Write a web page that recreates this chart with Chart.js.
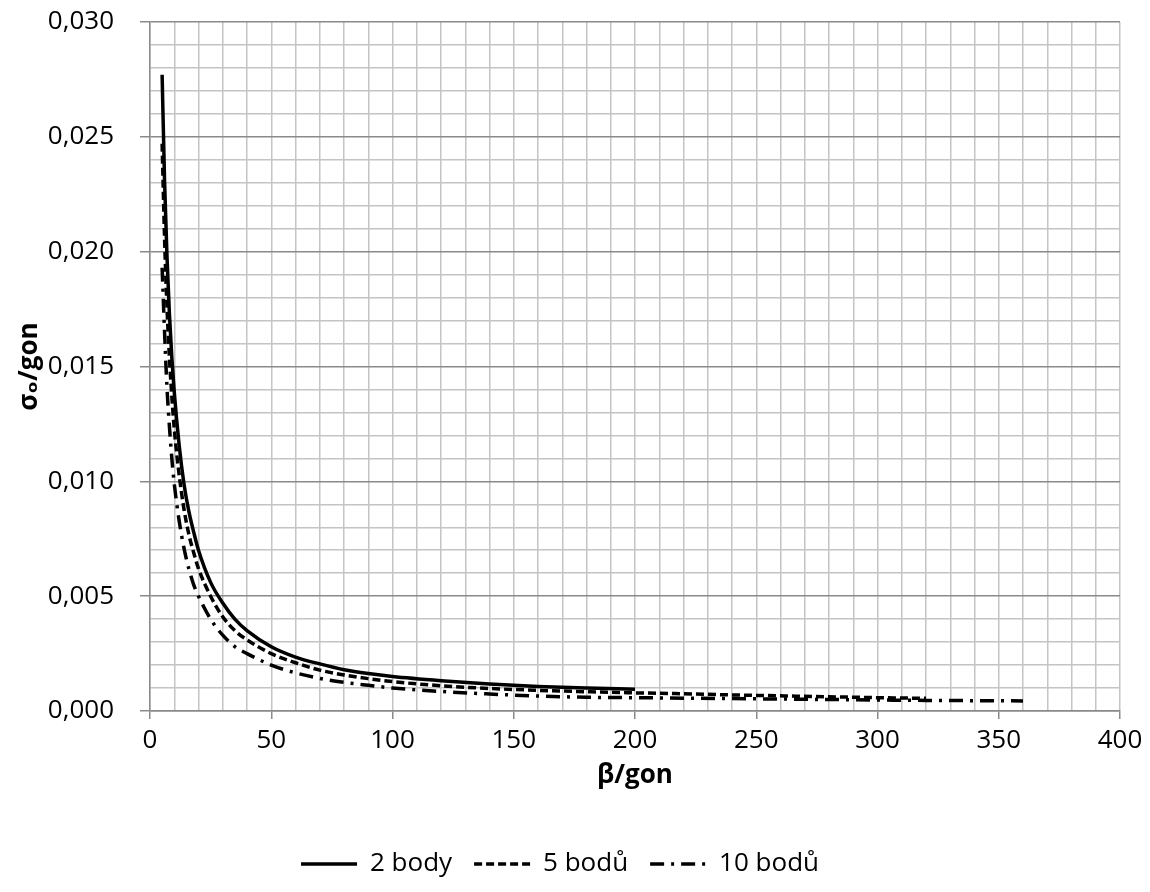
<!DOCTYPE html>
<html>
<head>
<meta charset="utf-8">
<script src="https://cdn.jsdelivr.net/npm/chart.js@4.4.1/dist/chart.umd.min.js"></script>
<style>
  html, body { margin: 0; padding: 0; background: #fff; }
  #wrap { width: 1150px; height: 892px; }
</style>
</head>
<body>
<div id="wrap"><canvas id="chart" width="1150" height="892"></canvas></div>
<script>
// beta / gon values for each series
const betaTwo = [5, 6, 7, 8, 9, 10, 12, 14, 16, 18, 20, 25, 30, 35, 40, 50, 60, 70, 80, 90, 100, 120, 140, 160, 180, 200];
const betaFive = [5, 6, 7, 8, 9, 10, 12, 14, 16, 18, 20, 25, 30, 35, 40, 50, 60, 70, 80, 90, 100, 120, 140, 160, 180, 200, 220, 240, 260, 280, 300, 320];
const betaTen = [5, 6, 7, 8, 9, 10, 12, 14, 16, 18, 20, 25, 30, 35, 40, 50, 60, 70, 80, 90, 100, 120, 140, 160, 180, 200, 220, 240, 260, 280, 300, 320, 340, 360];

// sigma_o / gon
const sigmaTwo = [0.0277, 0.0231, 0.0198, 0.0173, 0.0154, 0.0139, 0.0116, 0.0099, 0.0087, 0.0078, 0.0070, 0.0056, 0.0047, 0.0040, 0.0035, 0.0028, 0.00235, 0.00205, 0.00180, 0.00163, 0.00150, 0.00132, 0.00118, 0.00107, 0.00100, 0.00095];
const sigmaFive = [0.0247, 0.0206, 0.0176, 0.0154, 0.0137, 0.0123, 0.0103, 0.0088, 0.0077, 0.0069, 0.0062, 0.0050, 0.0041, 0.0035, 0.0031, 0.0025, 0.0021, 0.00178, 0.00157, 0.00141, 0.00128, 0.00110, 0.00098, 0.00090, 0.00084, 0.00079, 0.00075, 0.00070, 0.00066, 0.00062, 0.00058, 0.00055];
const sigmaTen = [0.0193, 0.0165, 0.0141, 0.0124, 0.0110, 0.0099, 0.0083, 0.0071, 0.0062, 0.0055, 0.0050, 0.0040, 0.0033, 0.0028, 0.0025, 0.0020, 0.00166, 0.00142, 0.00125, 0.00112, 0.00100, 0.00085, 0.00074, 0.00065, 0.00060, 0.00058, 0.00056, 0.00054, 0.00052, 0.00050, 0.00048, 0.00046, 0.00045, 0.00044];

const seriesNames = ['2 body', '5 bodů', '10 bodů'];
const seriesDash = [[], [8, 4], [14, 7, 3, 7]];

const toPoints = (xs, ys) => xs.map((x, i) => ({ x: x, y: ys[i] }));

const FONT = '"Open Sans", "DejaVu Sans", sans-serif';
const majorGrid = '#8a8a8a';
const minorGrid = '#c4c4c4';

function isMajorY(v) {
    return Math.round(v * 1000) % 5 === 0;
}
function isMajorX(v) {
    return Math.round(v) % 50 === 0;
}

const ctx = document.getElementById('chart').getContext('2d');

const makeSet = (i, xs, ys) => ({
    label: seriesNames[i],
    data: toPoints(xs, ys),
    borderColor: '#000',
    backgroundColor: '#000',
    borderWidth: 3.5,
    borderDash: seriesDash[i]
});

new Chart(ctx, {
    type: 'line',
    data: {
        datasets: [
            makeSet(0, betaTwo, sigmaTwo),
            makeSet(1, betaFive, sigmaFive),
            makeSet(2, betaTen, sigmaTen)
        ]
    },
    options: {
        responsive: false,
        animation: false,
        layout: { padding: { top: 0, right: 30, left: 0, bottom: 5 } },
        elements: {
            point: { radius: 0, hoverRadius: 0 },
            line: { cubicInterpolationMode: 'monotone', fill: false }
        },
        plugins: {
            tooltip: { enabled: false },
            legend: {
                position: 'bottom',
                labels: {
                    usePointStyle: true,
                    pointStyle: 'line',
                    pointStyleWidth: 56,
                    color: '#000',
                    padding: 22,
                    font: { family: FONT, size: 26 },
                    generateLabels: (chart) => {
                        const items = Chart.defaults.plugins.legend.labels.generateLabels(chart);
                        items.forEach((it) => {
                            it.lineDash = seriesDash[it.datasetIndex];
                            it.lineWidth = 3.5;
                            it.strokeStyle = '#000';
                        });
                        return items;
                    }
                }
            }
        },
        scales: {
            x: {
                type: 'linear',
                min: 0,
                max: 400,
                afterFit: (scale) => { scale.height = 118; },
                ticks: {
                    stepSize: 10,
                    autoSkip: false,
                    maxRotation: 0,
                    padding: 6,
                    color: '#000',
                    font: { family: FONT, size: 26 },
                    callback: (v) => isMajorX(v) ? String(v) : ''
                },
                grid: {
                    color: minorGrid,
                    lineWidth: 1.5,
                    tickLength: 8,
                    tickColor: (c) => isMajorX(c.tick.value) ? majorGrid : 'rgba(0,0,0,0)'
                },
                border: { color: majorGrid, width: 1.5 },
                title: {
                    display: true,
                    text: 'β/gon',
                    color: '#000',
                    font: { family: FONT, size: 26, weight: 'bold' },
                    padding: { top: 0, bottom: 38 }
                }
            },
            y: {
                type: 'linear',
                min: 0,
                max: 0.03,
                afterFit: (scale) => {
                    scale.width = 150;
                    scale.paddingTop = 22;
                    scale.paddingBottom = 0;
                },
                ticks: {
                    stepSize: 0.001,
                    autoSkip: false,
                    padding: 26,
                    color: '#000',
                    font: { family: FONT, size: 26 },
                    callback: (v) => isMajorY(v) ? v.toFixed(3).replace('.', ',') : ''
                },
                grid: {
                    color: (c) => isMajorY(c.tick.value) ? majorGrid : minorGrid,
                    lineWidth: 1.5,
                    tickLength: 10,
                    tickColor: (c) => isMajorY(c.tick.value) ? majorGrid : 'rgba(0,0,0,0)'
                },
                border: { color: majorGrid, width: 1.5 },
                title: {
                    display: true,
                    text: 'σₒ/gon',
                    color: '#000',
                    font: { family: FONT, size: 26, weight: 'bold' },
                    padding: { top: 14, bottom: 0 }
                }
            }
        }
    }
});
</script>
</body>
</html>
